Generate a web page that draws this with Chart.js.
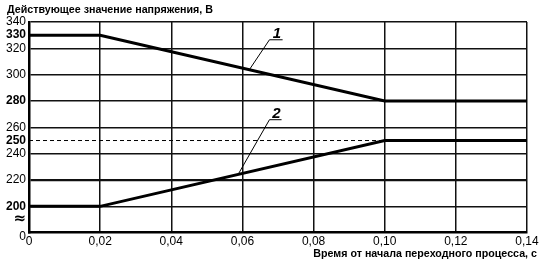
<!DOCTYPE html>
<html>
<head>
<meta charset="utf-8">
<script src="https://cdn.jsdelivr.net/npm/chart.js@4/dist/chart.umd.min.js"></script>
<style>
  html, body { margin: 0; padding: 0; background: #fff; }
  #wrap { width: 541px; height: 262px; }
</style>
</head>
<body>
<div id="wrap"><canvas id="grafico"></canvas></div>
<script>
// данные
const tempo = [0, 0.02, 0.10, 0.14];
const curva1 = [330, 330, 280, 280];
const curva2 = [200, 200, 250, 250];
const refX = [0, 0.10];
const refY = [250, 250];

const xTicks = [0, 0.02, 0.04, 0.06, 0.08, 0.10, 0.12, 0.14];
const xLabels = ['0', '0,02', '0,04', '0,06', '0,08', '0,10', '0,12', '0,14'];
const yTicks = [180, 190, 200, 220, 240, 250, 260, 280, 300, 320, 330, 340];
const yLabels = ['0', '≈', '200', '220', '240', '250', '260', '280', '300', '320', '330', '340'];
const yBold = ['200', '250', '280', '330'];

// выноски: [x низ, y низ, x верх, y верх, x конец полки, текст]
const leaders = [
  [0.062, 304, 0.0676, 326.5, 0.0713, '1'],
  [0.0588, 224.3, 0.0676, 265.8, 0.0710, '2']
];

const tituloY = 'Действующее значение напряжения, В';
const tituloX = 'Время от начала переходного процесса, с';

const pts = (xs, ys) => xs.map((x, i) => ({ x: x, y: ys[i] }));

const extras = {
  id: 'extras',
  afterDatasetsDraw(chart) {
    const c = chart.ctx;
    const sx = chart.scales.x, sy = chart.scales.y;
    c.save();
    c.strokeStyle = '#000';
    c.fillStyle = '#000';
    c.lineWidth = 1;
    leaders.forEach(l => {
      const x1 = sx.getPixelForValue(l[0]), y1 = sy.getPixelForValue(l[1]);
      const x2 = sx.getPixelForValue(l[2]), y2 = sy.getPixelForValue(l[3]);
      const x3 = sx.getPixelForValue(l[4]);
      c.beginPath();
      c.moveTo(x1, y1);
      c.lineTo(x2, y2);
      c.lineTo(x3, y2);
      c.stroke();
      c.font = 'italic bold 15px "Liberation Sans", Arial, sans-serif';
      c.textAlign = 'center';
      c.textBaseline = 'alphabetic';
      c.fillText(l[5], (x2 + x3) / 2 + 1, y2 - 2);
    });
    c.font = 'bold 10.7px "Liberation Sans", Arial, sans-serif';
    c.textAlign = 'left';
    c.textBaseline = 'middle';
    c.fillText(tituloY, 7, 10);
    c.textAlign = 'right';
    c.fillText(tituloX, 537, 254);
    c.restore();
  }
};

const ctx = document.getElementById('grafico').getContext('2d');
new Chart(ctx, {
  type: 'line',
  data: {
    datasets: [
      { label: '1', data: pts(tempo, curva1), borderColor: '#000', borderWidth: 3, pointRadius: 0, tension: 0 },
      { label: '2', data: pts(tempo, curva2), borderColor: '#000', borderWidth: 3, pointRadius: 0, tension: 0 },
      { label: 'ref', data: pts(refX, refY), borderColor: '#000', borderWidth: 1, borderDash: [4, 3], pointRadius: 0 }
    ]
  },
  options: {
    responsive: true,
    maintainAspectRatio: false,
    animation: false,
    layout: { padding: { top: 22, right: 14, left: 0, bottom: 0 } },
    plugins: { legend: { display: false }, tooltip: { enabled: false } },
    scales: {
      x: {
        type: 'linear',
        min: 0,
        max: 0.14,
        afterBuildTicks: s => { s.ticks = xTicks.map(v => ({ value: v })); },
        afterFit: s => { s.height = 29.3; },
        ticks: {
          autoSkip: false,
          maxRotation: 0,
          padding: 2,
          color: '#000',
          font: { family: '"Liberation Sans", Arial, sans-serif', size: 12 },
          callback: (v, i) => xLabels[i]
        },
        grid: {
          color: ctx => ctx.index === 0 ? 'rgba(0,0,0,0)' : '#111',
          lineWidth: 1.5,
          drawTicks: false
        },
        border: { color: '#000', width: 2.5 }
      },
      y: {
        type: 'linear',
        min: 180,
        max: 340,
        afterBuildTicks: s => { s.ticks = yTicks.map(v => ({ value: v })); },
        afterFit: s => { s.width = 29; },
        ticks: {
          autoSkip: false,
          padding: 3,
          color: '#000',
          font: ctx => {
            const lab = yLabels[ctx.index];
            if (lab === '≈') return { family: '"DejaVu Sans", sans-serif', size: 15, weight: 'bold' };
            if (lab === '0') return { family: '"Liberation Sans", Arial, sans-serif', size: 12, lineHeight: 0.67 };
            return {
              family: '"Liberation Sans", Arial, sans-serif',
              size: 12,
              weight: yBold.includes(lab) ? 'bold' : 'normal'
            };
          },
          callback: (v, i) => yLabels[i] === '0' ? ['', '0'] : yLabels[i]
        },
        grid: {
          color: ctx => {
            const v = ctx.tick ? ctx.tick.value : null;
            return (v === 180 || v === 190 || v === 250 || v === 330) ? 'rgba(0,0,0,0)' : '#111';
          },
          lineWidth: ctx => (ctx.tick && ctx.tick.value === 220) ? 2.2 : 1.5,
          drawTicks: false
        },
        border: { color: '#000', width: 2.5 }
      }
    }
  },
  plugins: [extras]
});
</script>
</body>
</html>
